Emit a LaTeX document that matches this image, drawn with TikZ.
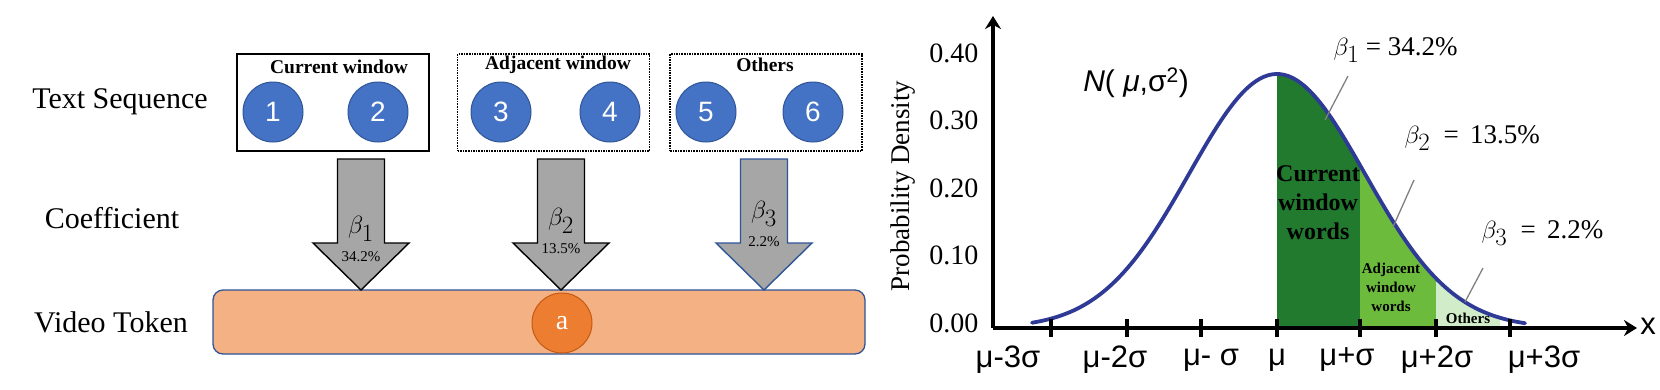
\documentclass[tikz,border=0pt]{standalone}
\usepackage{fontspec}
\setmainfont{Liberation Serif}
\newfontfamily\sansfont{Liberation Sans}
\usetikzlibrary{arrows.meta,positioning}
\definecolor{TokBlue}{RGB}{68,114,196}
\definecolor{TokEdge}{RGB}{47,85,151}
\definecolor{BarOrange}{RGB}{244,177,131}
\definecolor{DotOrange}{RGB}{237,125,49}
\definecolor{DotEdge}{RGB}{197,90,17}
\definecolor{ArrowGray}{RGB}{166,166,166}
\definecolor{CurveBlue}{RGB}{46,58,150}
\definecolor{DarkGreen}{RGB}{33,122,46}
\definecolor{MidGreen}{RGB}{108,187,60}
\definecolor{PaleGreen}{RGB}{208,236,200}

\begin{document}
\begin{tikzpicture}[x=1pt, y=-1pt,
        rowlabel/.style={font=\fontsize{30}{34}\selectfont},
        winbox/.style={line width=1.6pt, minimum width=192pt, minimum height=97pt, inner sep=0pt},
        wintitle/.style={font=\fontsize{19.5}{22}\selectfont\bfseries},
        tokcirc/.style={circle, draw=TokEdge, fill=TokBlue, line width=1pt, minimum size=60pt, inner sep=0pt, text=white, font=\sansfont\fontsize{28}{30}\selectfont},
        blockarr/.style={fill=ArrowGray, line width=1.4pt, line join=miter},
        ticklab/.style={anchor=east, font=\fontsize{28}{30}\selectfont},
        xlab/.style={font=\sansfont\fontsize{31}{34}\selectfont},
        axis/.style={line width=3.6pt, -{Stealth[length=13pt, width=16pt]}},
        leader/.style={draw=gray, line width=1.3pt},
        curve/.style={draw=CurveBlue, line width=3.8pt, line cap=round}]
        \useasboundingbox (0,0) rectangle (1660,389);

        % left part: row labels
        \node[rowlabel] (txtseq) at (120,102) {Text Sequence};
        \node[rowlabel] (coeff) at (112,218) {Coefficient};
        \node[rowlabel] (vidtok) at (111,322) {Video Token};

        % windows
        \node[winbox, draw] (curwin) at (333,102.5) {};
        \node[winbox, draw, densely dotted] (adjwin) at (553.5,102.5) {};
        \node[winbox, draw, densely dotted] (othwin) at (766,102.5) {};
        \node[wintitle] (curtitle) at (339,67) {Current window};
        \node[wintitle] (adjtitle) at (558,65) {Adjacent window};
        \node[wintitle] (othtitle) at (765,65) {Others};

        \foreach \tx [count=\i] in {273,378,501,610,706,813}
          \node[tokcirc] (tok\i) at (\tx,112) {\i};

        % video token bar
        \node[draw=TokEdge, fill=BarOrange, line width=1.3pt, rounded corners=10pt, minimum width=652pt, minimum height=64pt] (vbar) at (539,322) {};
        \node[circle, draw=DotEdge, fill=DotOrange, line width=1pt, minimum size=60pt, inner sep=0pt, text=white, font=\fontsize{28}{30}\selectfont] (tokA) at (562,323) {a};

        % coefficient arrows
        \foreach \cx/\bd/\nb/\pct/\by in {361/black/1/34.2/229, 561/black/2/13.5/221, 764/TokEdge/3/2.2/214} {
          \draw[blockarr, draw=\bd] (\cx-23.5,159) -- (\cx+23.5,159) -- (\cx+23.5,243) -- (\cx+48,243)
            -- (\cx,290) -- (\cx-48,243) -- (\cx-23.5,243) -- cycle;
          \node[font=\fontsize{37}{38}\selectfont, inner sep=0pt] (beta\nb) at (\cx,\by) {$\beta_{\nb}$};
          \node[font=\fontsize{15}{17}\selectfont] (pct\nb) at (\cx,\by+28) {\pct\%};
        }

        % right part: normal curve
        \fill[DarkGreen] (1277,328) -- plot[domain=1277:1360, samples=40] (\x, {328-254*exp(-0.5*((\x-1277)/88)^2)}) -- (1360,328) -- cycle;
        \fill[MidGreen] (1360,328) -- plot[domain=1360:1436, samples=40] (\x, {328-254*exp(-0.5*((\x-1277)/88)^2)}) -- (1436,328) -- cycle;
        \fill[PaleGreen] (1436,328) -- plot[domain=1436:1500, samples=30] (\x, {328-254*exp(-0.5*((\x-1277)/88)^2)}) -- (1500,328) -- cycle;
        \draw[curve] plot[domain=1032:1525, samples=120] (\x, {328-254*exp(-0.5*((\x-1277)/88)^2)});

        % axes
        \coordinate (orig) at (993,328);
        \coordinate (ytop) at (993,16);
        \coordinate (xend) at (1637,328);
        \draw[axis] (orig) -- (ytop);
        \draw[axis] (orig) -- (xend);
        \foreach \tx in {1051,1127,1201,1277,1360,1436,1510}
          \draw[line width=3.6pt] (\tx,319) -- (\tx,337);

        \foreach \v/\ty [count=\i] in {0.40/53, 0.30/120, 0.20/188, 0.10/255, 0.00/323}
          \node[ticklab] (ytk\i) at (982,\ty) {\v};
        \node[rotate=90, font=\fontsize{27}{30}\selectfont] (ylab) at (903,186) {Probability Density};

        \foreach \lab/\lx [count=\i] in {μ-3σ/1008, μ-2σ/1115, μ- σ/1211, μ/1277, μ+σ/1347, μ+2σ/1437, μ+3σ/1544}
          \node[xlab] (xtk\i) at (\lx,360) {\lab};
        \node[xlab] (xname) at (1648,326) {x};

        \node[font=\sansfont\fontsize{30}{32}\selectfont] (normlab) at (1136,83) {\textit{N}( \textit{μ},σ\textsuperscript{2})};

        % region labels
        \node[align=center, font=\fontsize{24}{29}\selectfont\bfseries] (curwords) at (1318,203) {Current\\window\\words};
        \node[align=center, font=\fontsize{15}{19}\selectfont\bfseries] (adjwords) at (1391,287) {Adjacent\\window\\words};
        \node[font=\fontsize{15}{17}\selectfont\bfseries] (othwords) at (1468,318) {Others};

        % coefficient values
        \node[anchor=west, font=\fontsize{27}{30}\selectfont] (bval1) at (1330,50) {{\fontsize{34}{34}\selectfont$\beta_1$} = 34.2\%};
        \node[anchor=west, font=\fontsize{27}{30}\selectfont] (bval2) at (1401,138) {{\fontsize{34}{34}\selectfont$\beta_2$}\ \ =\ \,13.5\%};
        \node[anchor=west, font=\fontsize{27}{30}\selectfont] (bval3) at (1478,233) {{\fontsize{34}{34}\selectfont$\beta_3$}\ \ =\ \,2.2\%};

        \coordinate (ld1a) at (1348,76);  \coordinate (ld1b) at (1325,120);
        \coordinate (ld2a) at (1414,180); \coordinate (ld2b) at (1393,227);
        \coordinate (ld3a) at (1483,268); \coordinate (ld3b) at (1465,302);
        \draw[leader] (ld1a) -- (ld1b);
        \draw[leader] (ld2a) -- (ld2b);
        \draw[leader] (ld3a) -- (ld3b);
      \end{tikzpicture}
\end{document}
